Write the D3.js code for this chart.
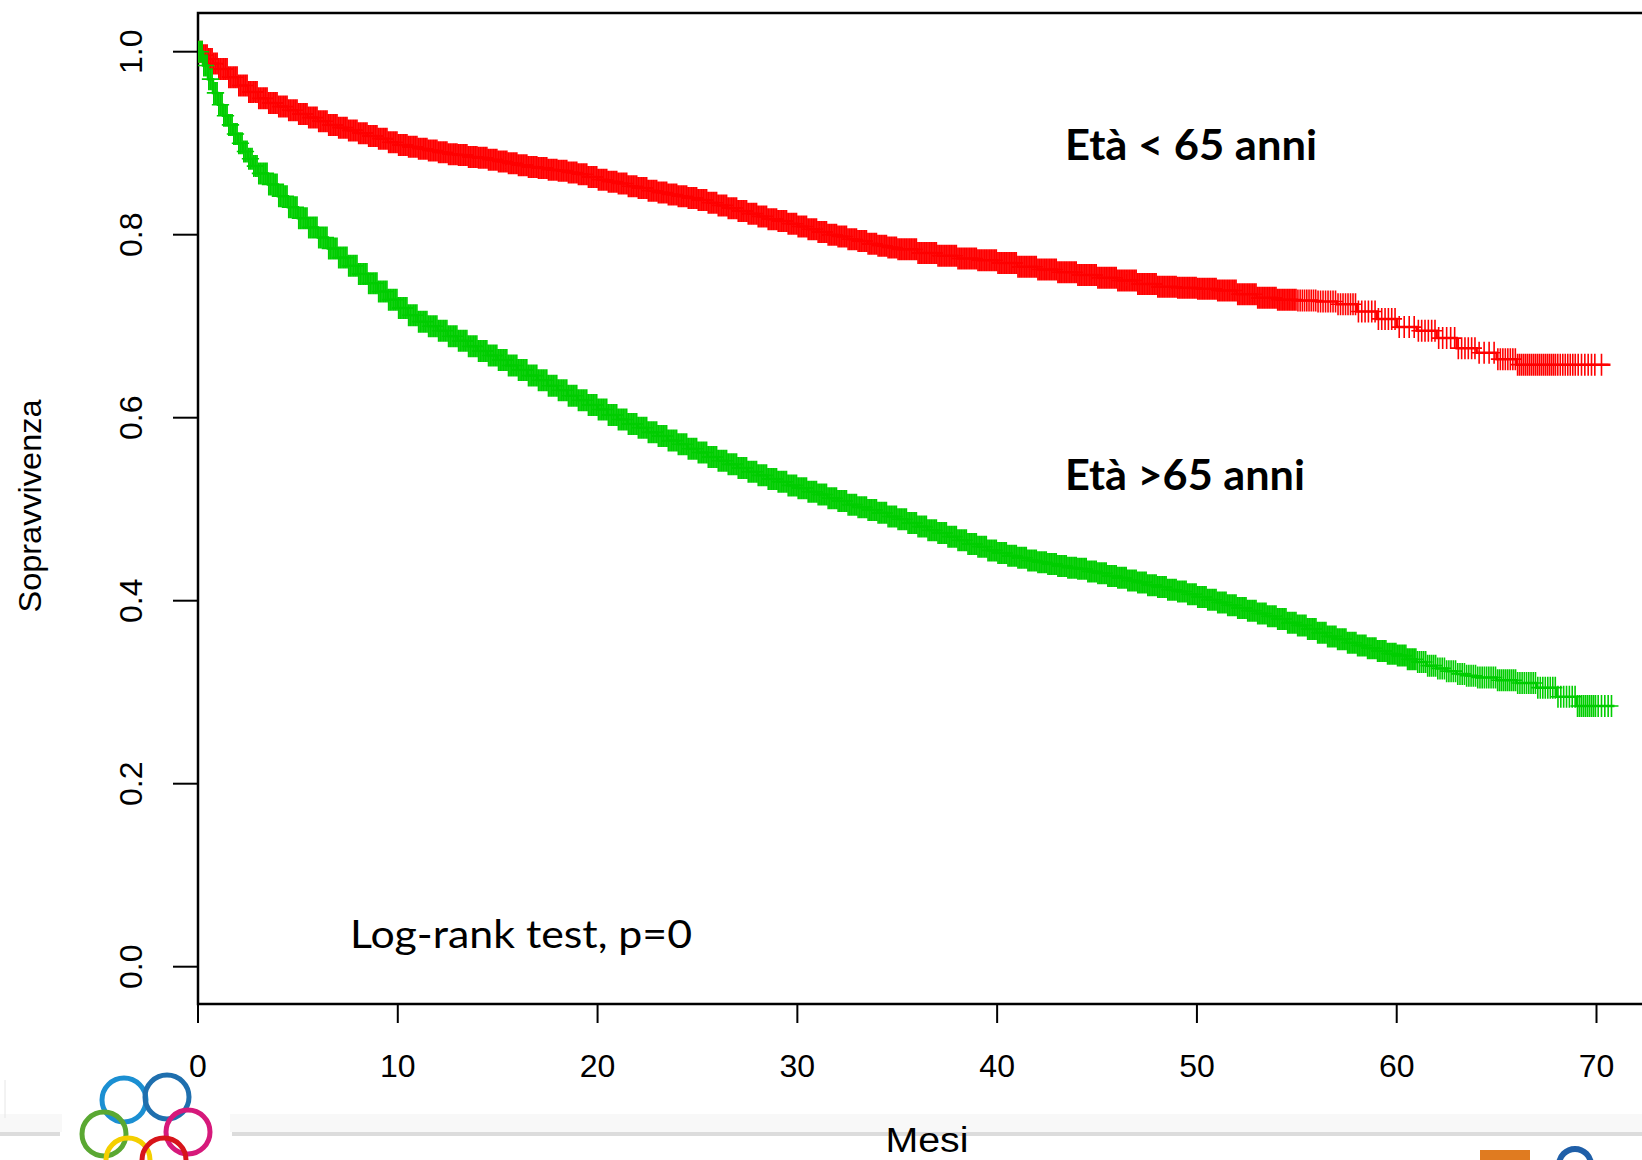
<!DOCTYPE html>
<html><head><meta charset="utf-8">
<script src="https://cdn.jsdelivr.net/npm/d3@7"></script>
<style>body{margin:0;background:#fff;overflow:hidden} svg{display:block}</style>
</head><body>
<svg id="c" width="1642" height="1160"></svg>
<script>
// ---- data ----
const xTicks = [0, 10, 20, 30, 40, 50, 60, 70];
const yTicks = [0, 0.2, 0.4, 0.6, 0.8, 1.0];
const yTickLabels = ["0.0", "0.2", "0.4", "0.6", "0.8", "1.0"];

// Età < 65 anni (red): [month, survival]
const redCurve = [[0,1.000],[0.25,0.996],[0.5,0.992],[0.75,0.987],[1,0.981],[1.5,0.972],[2,0.963],[2.5,0.956],[3,0.949],[3.5,0.944],[4,0.940],[4.5,0.936],
[5,0.932],[5.5,0.928],[6,0.924],[6.5,0.920],[7,0.917],[7.5,0.914],[8,0.911],[8.5,0.908],[9,0.905],[9.5,0.901],[10,0.898],[10.5,0.896],[11,0.894],[11.5,0.892],
[12,0.890],[12.5,0.888],[13,0.887],[13.5,0.885],[14,0.884],[14.5,0.882],[15,0.880],[15.5,0.878],[16,0.876],[16.5,0.874],[17,0.873],[17.5,0.871],[18,0.870],[18.5,0.868],
[19,0.866],[19.5,0.863],[20,0.860],[20.5,0.858],[21,0.856],[21.5,0.853],[22,0.851],[22.5,0.848],[23,0.846],[23.5,0.844],[24,0.842],[24.5,0.840],[25,0.838],[25.5,0.835],
[26,0.832],[26.5,0.829],[27,0.826],[27.5,0.823],[28,0.820],[28.5,0.817],[29,0.815],[29.5,0.812],[30,0.809],[30.5,0.806],[31,0.803],[31.5,0.800],[32,0.798],[32.5,0.795],
[33,0.793],[33.5,0.790],[34,0.788],[34.5,0.786],[35,0.784],[36,0.780],[37,0.777],[38,0.774],[39,0.772],[40,0.769],[41,0.765],[42,0.762],[43,0.759],[44,0.756],[45,0.753],
[46,0.750],[47,0.746],[48,0.743],[49,0.742],[50,0.741],[51,0.739],[52,0.735],[53,0.731],[54,0.729],[55,0.728],[56,0.727],[57,0.724],[58,0.716],[59,0.708],[60,0.699],
[61,0.695],[62,0.687],[63,0.676],[64,0.671],[65,0.664],[66,0.658]];
const redEnd = 70.7;
const redCensorPerMonth = [12,12,12,12,12,12,12,12,12,12,12,12,12,12,12,12,12,12,12,12,12,12,12,12,12,12,12,12,12,12,12,12,12,12,12,12,12,12,12,12,12,12,12,12,12,12,12,12,12,12,12,12,12,12,12,9,8,8,6,6,4,6,5,6,4,8,10,10,8,6,2];

// Età >65 anni (green): [month, survival]
const greenCurve = [[0,1.000],[0.25,0.985],[0.5,0.970],[0.75,0.955],[1,0.942],[1.25,0.930],[1.5,0.920],[1.75,0.910],[2,0.900],[2.25,0.891],[2.5,0.883],[2.75,0.875],
[3,0.867],[3.5,0.855],[4,0.842],[4.5,0.830],[5,0.818],[5.5,0.808],[6,0.797],[6.5,0.785],[7,0.775],[7.5,0.766],[8,0.757],[8.5,0.747],[9,0.738],[9.5,0.729],
[10,0.720],[10.5,0.712],[11,0.705],[11.5,0.700],[12,0.695],[12.5,0.689],[13,0.684],[13.5,0.678],[14,0.673],[14.5,0.668],[15,0.663],[15.5,0.657],[16,0.652],[16.5,0.646],
[17,0.641],[17.5,0.635],[18,0.630],[18.5,0.624],[19,0.619],[19.5,0.614],[20,0.609],[20.5,0.603],[21,0.598],[21.5,0.593],[22,0.589],[22.5,0.584],[23,0.580],[23.5,0.575],
[24,0.571],[24.5,0.566],[25,0.562],[25.5,0.557],[26,0.553],[26.5,0.549],[27,0.545],[27.5,0.541],[28,0.537],[28.5,0.533],[29,0.530],[29.5,0.526],[30,0.523],[30.5,0.519],
[31,0.516],[31.5,0.512],[32,0.509],[32.5,0.505],[33,0.502],[33.5,0.499],[34,0.496],[34.5,0.492],[35,0.489],[35.5,0.485],[36,0.481],[36.5,0.477],[37,0.474],[37.5,0.470],
[38,0.466],[38.5,0.462],[39,0.459],[39.5,0.455],[40,0.452],[40.5,0.449],[41,0.447],[41.5,0.444],[42,0.442],[42.5,0.440],[43,0.438],[43.5,0.436],[44,0.435],[44.5,0.432],
[45,0.430],[45.5,0.427],[46,0.425],[46.5,0.422],[47,0.420],[47.5,0.417],[48,0.415],[48.5,0.412],[49,0.410],[49.5,0.407],[50,0.404],[50.5,0.401],[51,0.398],[51.5,0.395],
[52,0.392],[52.5,0.389],[53,0.386],[53.5,0.383],[54,0.380],[54.5,0.376],[55,0.373],[55.5,0.369],[56,0.365],[56.5,0.361],[57,0.358],[57.5,0.354],[58,0.351],[58.5,0.348],
[59,0.345],[59.5,0.342],[60,0.340],[60.5,0.336],[61,0.333],[61.5,0.329],[62,0.326],[62.5,0.323],[63,0.320],[63.5,0.318],[64,0.316],[65,0.313],[66,0.310],[67,0.305],
[68,0.295],[69,0.285]];
const greenEnd = 70.9;
const greenCensorPerMonth = [12,12,12,12,12,12,12,12,12,12,12,12,12,12,12,12,12,12,12,12,12,12,12,12,12,12,12,12,12,12,12,12,12,12,12,12,12,12,12,12,12,12,12,12,12,12,12,12,12,12,12,12,12,12,12,12,12,12,12,12,12,10,9,9,9,10,9,8,7,10,6];

const labels = ["Età < 65 anni", "Età >65 anni"];
const statText = "Log-rank test, p=0";
const xTitle = "Mesi";
const yTitle = "Sopravvivenza";

// ---- drawing ----
const svg = d3.select("#c");
const x = d3.scaleLinear().domain([0, 70]).range([198, 1596.5]);
const y = d3.scaleLinear().domain([0, 1]).range([966.7, 51.7]);
const plotTop = 13, plotBottom = 1004, plotLeft = 198;
const axisFont = "'Liberation Sans', Arial, sans-serif";

// footer decorations (slide background)
svg.append("rect").attr("x", 0).attr("y", 1114).attr("width", 1642).attr("height", 18).attr("fill", "#f8f8f8");
svg.append("line").attr("x1", 0).attr("x2", 60).attr("y1", 1134).attr("y2", 1134).attr("stroke", "#dcdcdc").attr("stroke-width", 4);
svg.append("line").attr("x1", 232).attr("x2", 1642).attr("y1", 1134).attr("y2", 1134).attr("stroke", "#dcdcdc").attr("stroke-width", 4);
svg.append("line").attr("x1", 5).attr("x2", 5).attr("y1", 1080).attr("y2", 1118).attr("stroke", "#e6e6e6").attr("stroke-width", 1);
svg.append("rect").attr("x", 62).attr("y", 1040).attr("width", 168).attr("height", 120).attr("fill", "#fff");
const logo = svg.append("g").attr("fill", "none").attr("stroke-width", 5);
[[124,1100,"#1b8fd2"],[167,1097,"#1f6fae"],[104,1134,"#5aa832"],[188,1132,"#d6197b"],[128,1160,"#f4cf00"],[164,1160,"#d7141a"]]
  .forEach(([cx, cy, col]) => logo.append("circle").attr("cx", cx).attr("cy", cy).attr("r", 22).attr("stroke", col));
svg.append("rect").attr("x", 1480).attr("y", 1150).attr("width", 50).attr("height", 12).attr("fill", "#e07b20");
svg.append("circle").attr("cx", 1575).attr("cy", 1165).attr("r", 16).attr("fill", "none").attr("stroke", "#1f5fa8").attr("stroke-width", 6);

// box / axes
svg.append("path")
  .attr("d", `M1642,${plotTop}H${plotLeft}V${plotBottom}H1642`)
  .attr("fill", "none").attr("stroke", "#000").attr("stroke-width", 2.5);

const gx = svg.append("g");
xTicks.forEach(t => {
  gx.append("line").attr("x1", x(t)).attr("x2", x(t)).attr("y1", plotBottom).attr("y2", 1023)
    .attr("stroke", "#000").attr("stroke-width", 2);
  gx.append("text").attr("x", x(t)).attr("y", 1077).attr("text-anchor", "middle")
    .attr("font-family", axisFont).attr("font-size", 32).text(t);
});
const gy = svg.append("g");
yTicks.forEach((v, i) => {
  gy.append("line").attr("x1", 173).attr("x2", plotLeft).attr("y1", y(v)).attr("y2", y(v))
    .attr("stroke", "#000").attr("stroke-width", 2);
  gy.append("text").attr("transform", `translate(142,${y(v)}) rotate(-90)`).attr("text-anchor", "middle")
    .attr("font-family", axisFont).attr("font-size", 32).text(yTickLabels[i]);
});

svg.append("text").attr("x", 927).attr("y", 1152).attr("text-anchor", "middle")
  .attr("font-family", axisFont).attr("font-size", 35).attr("textLength", 83).attr("lengthAdjust", "spacingAndGlyphs").text(xTitle);
svg.append("text").attr("transform", `translate(41,506) rotate(-90)`).attr("text-anchor", "middle")
  .attr("font-family", axisFont).attr("font-size", 31)
  .attr("textLength", 213).attr("lengthAdjust", "spacingAndGlyphs").text(yTitle);

// curves
svg.append("clipPath").attr("id", "clp").append("rect")
  .attr("x", plotLeft).attr("y", plotTop).attr("width", 1642 - plotLeft).attr("height", plotBottom - plotTop);

function drawKM(curve, end, censor, color) {
  const times = curve.map(d => d[0]);
  const pts = curve.slice();
  pts.push([end, curve[curve.length - 1][1]]);
  const g = svg.append("g").attr("clip-path", "url(#clp)");
  const line = d3.line().x(d => x(d[0])).y(d => y(d[1])).curve(d3.curveStepAfter);
  g.append("path").attr("d", line(pts)).attr("fill", "none").attr("stroke", color).attr("stroke-width", 2.5);
  const sAt = t => curve[Math.max(0, d3.bisectRight(times, t) - 1)][1];
  let d = "";
  censor.forEach((n, m) => {
    for (let k = 0; k < n; k++) {
      const t = m + (k + 0.5) / n;
      if (t > end - 0.05) continue;
      const px = x(t), py = y(sAt(t));
      d += `M${px},${py - 11}V${py + 11}M${px - 7},${py}H${px + 7}`;
    }
  });
  g.append("path").attr("d", d).attr("fill", "none").attr("stroke", color).attr("stroke-width", 1.6);
}
drawKM(redCurve, redEnd, redCensorPerMonth, "#ff0000");
drawKM(greenCurve, greenEnd, greenCensorPerMonth, "#00cd00");

// annotations
const annFont = "Lato, 'Open Sans', sans-serif";
svg.append("text").attr("x", 1065).attr("y", 160).attr("font-family", annFont).attr("font-weight", "bold")
  .attr("font-size", 42).attr("textLength", 252).attr("lengthAdjust", "spacingAndGlyphs").text(labels[0]);
svg.append("text").attr("x", 1065).attr("y", 490).attr("font-family", annFont).attr("font-weight", "bold")
  .attr("font-size", 42).attr("textLength", 240).attr("lengthAdjust", "spacingAndGlyphs").text(labels[1]);
svg.append("text").attr("x", 350).attr("y", 948).attr("font-family", annFont)
  .attr("font-size", 38).attr("textLength", 342).attr("lengthAdjust", "spacingAndGlyphs").text(statText);
</script>
</body></html>
